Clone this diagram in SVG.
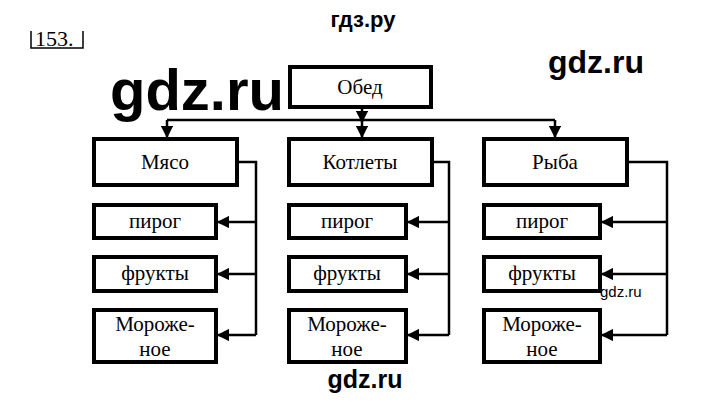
<svg xmlns="http://www.w3.org/2000/svg" width="720" height="406" viewBox="0 0 720 406">
<style>
.b{fill:#fff;stroke:#000;stroke-width:4}
.t{font-family:"Liberation Serif",serif;font-size:21px;text-anchor:middle;fill:#000}
.w{font-family:"Liberation Sans",sans-serif;font-weight:bold;fill:#000}
.c{fill:none;stroke:#000;stroke-width:2.5}
</style>
<defs><marker id="a" viewBox="0 0 10 10" refX="9" refY="5" markerWidth="5" markerHeight="5" orient="auto"><path d="M0,0L10,5L0,10z" fill="#000"/></marker></defs>
<rect width="720" height="406" fill="#fff"/>
<text class="w" x="363" y="27" font-size="22" text-anchor="middle">гдз.ру</text>
<text x="35" y="46" font-family="Liberation Serif,serif" font-size="22">153.</text>
<path d="M31,31V48H83V31" fill="none" stroke="#000" stroke-width="1.5"/>
<g id="connectors" class="c">
<path d="M362,107V122" marker-end="url(#a)"/>
<path d="M167,120H555"/>
<path d="M167,120V137" marker-end="url(#a)"/>
<path d="M362,120V137" marker-end="url(#a)"/>
<path d="M555,120V137" marker-end="url(#a)"/>
<path d="M237,162H256V335"/>
<path d="M256,222H218" marker-end="url(#a)"/>
<path d="M256,274H218" marker-end="url(#a)"/>
<path d="M256,335H218" marker-end="url(#a)"/>
<path d="M432,162H449V335"/>
<path d="M449,222H408" marker-end="url(#a)"/>
<path d="M449,274H408" marker-end="url(#a)"/>
<path d="M449,335H408" marker-end="url(#a)"/>
<path d="M627,162H667V335"/>
<path d="M667,222H602" marker-end="url(#a)"/>
<path d="M667,274H602" marker-end="url(#a)"/>
<path d="M667,335H602" marker-end="url(#a)"/>
</g>
<g id="obed"><rect class="b" x="290" y="67" width="141" height="40"/><text class="t" x="360" y="94">Обед</text></g>
<g id="myaso"><rect class="b" x="94" y="139" width="143" height="46"/><text class="t" x="165" y="169">Мясо</text></g>
<g id="kotlety"><rect class="b" x="289" y="139" width="143" height="46"/><text class="t" x="360" y="169">Котлеты</text></g>
<g id="ryba"><rect class="b" x="484" y="139" width="143" height="46"/><text class="t" x="555" y="169">Рыба</text></g>
<g id="p1"><rect class="b" x="94" y="205" width="122" height="33"/><text class="t" x="155" y="228">пирог</text></g>
<g id="f1"><rect class="b" x="94" y="257" width="122" height="34"/><text class="t" x="155" y="280">фрукты</text></g>
<g id="m1"><rect class="b" x="94" y="310" width="122" height="52"/><text class="t" x="155" y="331">Мороже-</text><text class="t" x="155" y="356">ное</text></g>
<g id="p2"><rect class="b" x="289" y="205" width="117" height="33"/><text class="t" x="347" y="228">пирог</text></g>
<g id="f2"><rect class="b" x="289" y="257" width="117" height="34"/><text class="t" x="347" y="280">фрукты</text></g>
<g id="m2"><rect class="b" x="289" y="310" width="117" height="52"/><text class="t" x="347" y="331">Мороже-</text><text class="t" x="347" y="356">ное</text></g>
<g id="p3"><rect class="b" x="484" y="205" width="116" height="33"/><text class="t" x="542" y="228">пирог</text></g>
<g id="f3"><rect class="b" x="484" y="257" width="116" height="34"/><text class="t" x="542" y="280">фрукты</text></g>
<g id="m3"><rect class="b" x="484" y="310" width="116" height="52"/><text class="t" x="542" y="331">Мороже-</text><text class="t" x="542" y="356">ное</text></g>
<text class="w" x="110" y="110" font-size="58">gdz.ru</text>
<text class="w" x="548" y="73" font-size="32">gdz.ru</text>
<text x="600" y="297" font-family="Liberation Sans,sans-serif" font-size="15">gdz.ru</text>
<text class="w" x="365" y="388" font-size="25" text-anchor="middle">gdz.ru</text>
</svg>
